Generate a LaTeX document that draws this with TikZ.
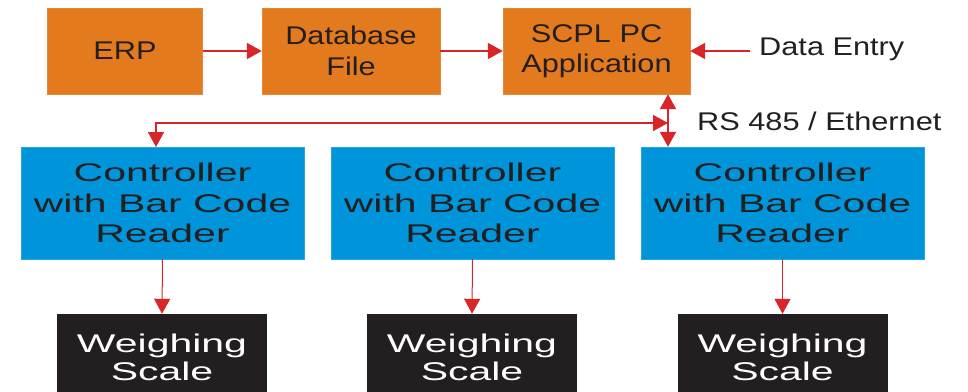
\documentclass[tikz,border=0pt]{standalone}
\usepackage{fontspec}
\setmainfont{Liberation Sans}
\newfontfamily\topfont[FakeStretch=1.2]{Liberation Sans}
\newfontfamily\botfont[FakeStretch=1.6]{Liberation Sans}
\usetikzlibrary{arrows.meta}
\definecolor{orng}{RGB}{228,122,30}
\definecolor{bluebox}{RGB}{0,149,218}
\definecolor{blk}{RGB}{35,31,32}
\definecolor{arrred}{RGB}{218,37,40}
\tikzset{
  topbox/.style={fill=orng, draw=orng!90!white, inner sep=0pt, align=center, text=blk,
    font=\topfont\fontsize{25.6pt}{30.5pt}\selectfont},
  ctrlbox/.style={fill=bluebox, draw=bluebox!85!white, inner sep=0pt, align=center, text=blk,
    minimum width=283pt, minimum height=112pt,
    font=\botfont\fontsize{25.6pt}{30.5pt}\selectfont},
  scalebox/.style={fill=blk, inner sep=0pt, align=center, text=white,
    minimum width=210pt, minimum height=86pt,
    font=\botfont\fontsize{25.6pt}{28pt}\selectfont},
  lbl/.style={inner sep=0pt, anchor=west, text=blk,
    font=\topfont\fontsize{25.6pt}{30.5pt}\selectfont},
  redarr/.style={draw=arrred, line width=2pt, -{Triangle[length=15pt,width=16pt]}},
  thinarr/.style={draw=arrred, line width=1pt, -{Triangle[length=15pt,width=16pt]}},
}
\begin{document}
\begin{tikzpicture}[x=1pt,y=-1pt]
\useasboundingbox (0,0) rectangle (968,391);
\clip (0,0) rectangle (968,391);
\fill[white] (0,0) rectangle (968,391);
% top row
\node[topbox, minimum width=155pt, minimum height=86pt] (erp) at (125,51) {ERP};
\node[topbox, minimum width=178pt, minimum height=86pt] (db) at (351,51) {Database\\File};
\node[topbox, minimum width=187pt, minimum height=86pt] (scpl) at (596.5,51) {SCPL PC\\Application};
\node[lbl] (de) at (759,49) {Data Entry};
\coordinate (deend) at (750,51);
% controllers
\node[ctrlbox] (c1) at (162.5,203) {Controller\\with Bar Code\\Reader};
\node[ctrlbox] (c2) at (472.5,203) {Controller\\with Bar Code\\Reader};
\node[ctrlbox] (c3) at (782.5,203) {Controller\\with Bar Code\\Reader};
% scales
\node[scalebox] (w1) at (162,357) {Weighing\\Scale};
\node[scalebox] (w2) at (472,357) {Weighing\\Scale};
\node[scalebox] (w3) at (782.5,357) {Weighing\\Scale};
% bus
\coordinate (bus) at (668,123);
\coordinate (drop) at (156,147);
\node[lbl] (rs) at (697,121) {RS 485 / Ethernet};
% connectors
\draw[redarr] (erp.east) -- (db.west);
\draw[redarr] (db.east) -- (scpl.west);
\draw[redarr] (deend) -- (scpl.east |- deend);
\draw[redarr, {Triangle[length=15pt,width=16pt]}-{Triangle[length=15pt,width=16pt]}] (scpl.south -| bus) -- (c3.north -| bus);
\draw[draw=arrred, line width=1.5pt, {Triangle[length=15pt,width=16pt]}-{Triangle[length=15pt,width=16pt]}] (drop) |- (bus);
\draw[thinarr] (c1.south) -- (w1.north);
\draw[thinarr] (c2.south) -- (w2.north);
\draw[thinarr] (c3.south) -- (w3.north);
\end{tikzpicture}
\end{document}
